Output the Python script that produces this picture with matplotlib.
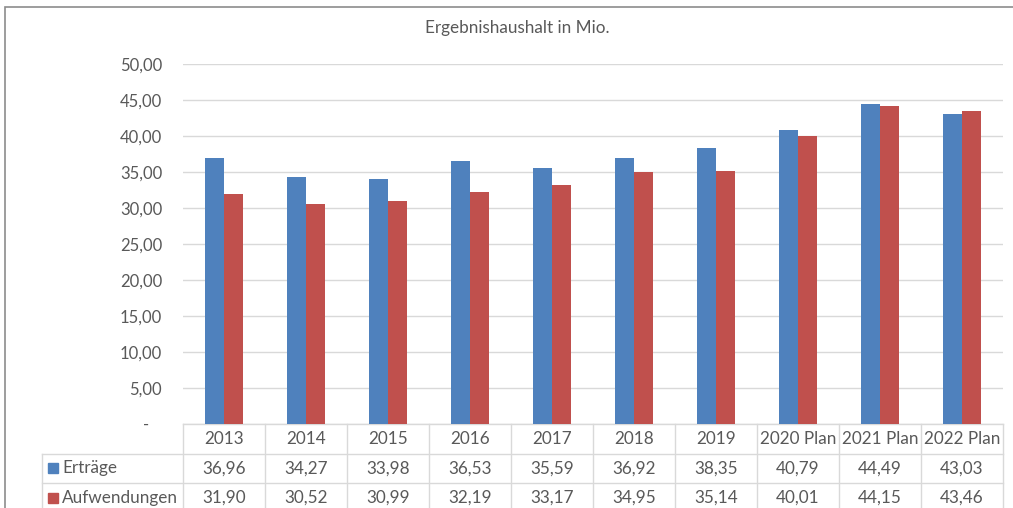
import matplotlib.pyplot as plt
import matplotlib.transforms as mtransforms
from matplotlib.patches import Rectangle
import numpy as np

plt.rcParams['font.family'] = ['Lato', 'DejaVu Sans']

years = ['2013', '2014', '2015', '2016', '2017', '2018', '2019',
         '2020 Plan', '2021 Plan', '2022 Plan']
ertraege = [36.96, 34.27, 33.98, 36.53, 35.59, 36.92, 38.35, 40.79, 44.49, 43.03]
aufwendungen = [31.90, 30.52, 30.99, 32.19, 33.17, 34.95, 35.14, 40.01, 44.15, 43.46]
series_names = ['Erträge', 'Aufwendungen']

blue = '#4F81BD'
red = '#C0504D'
txt = '#595959'
grid = '#D9D9D9'

def de(v):
    return f'{v:.2f}'.replace('.', ',')

fig = plt.figure(figsize=(10.13, 5.08), dpi=100)
ax = fig.add_axes([183 / 1013, 1 - 424 / 508, 820 / 1013, 360 / 508])

x = np.arange(len(years))
w = 0.23
ax.bar(x - w / 2, ertraege, w, color=blue, zorder=3)
ax.bar(x + w / 2, aufwendungen, w, color=red, zorder=3)

ax.set_xlim(-0.5, len(years) - 0.5)
ax.set_ylim(0, 50)
ax.set_yticks(np.arange(0, 51, 5))
ax.set_yticklabels(['-   '] + [de(v) for v in np.arange(5, 51, 5)])
ax.tick_params(axis='y', length=0, pad=15, labelsize=12, colors=txt)
ax.tick_params(axis='x', length=0, labelbottom=False)
ax.yaxis.grid(True, color=grid, linewidth=1, zorder=0)
for s in ax.spines.values():
    s.set_visible(False)

# data table under the axis
row_h = 29.5 / 360
trans = mtransforms.blended_transform_factory(ax.transData, ax.transAxes)
left_x = (42 - 183) / 820 * len(years) - 0.5
bottom = -3.2 * row_h
ax.plot([-0.5, len(years) - 0.5], [0, 0], transform=trans, color=grid, lw=1, clip_on=False)
for r in (1, 2):
    ax.plot([left_x, len(years) - 0.5], [-r * row_h] * 2, transform=trans,
            color=grid, lw=1, clip_on=False)
for b in np.arange(-0.5, len(years), 1.0):
    ax.plot([b, b], [0, bottom], transform=trans, color=grid, lw=1, clip_on=False)
ax.plot([left_x, left_x], [-row_h, bottom], transform=trans, color=grid, lw=1, clip_on=False)

fs = 12.3
for i, y in enumerate(years):
    ax.text(i, -0.5 * row_h, y, transform=trans, ha='center', va='center',
            fontsize=fs, color=txt)
    ax.text(i, -1.5 * row_h, de(ertraege[i]), transform=trans, ha='center',
            va='center', fontsize=fs, color=txt)
    ax.text(i, -2.5 * row_h, de(aufwendungen[i]), transform=trans, ha='center',
            va='center', fontsize=fs, color=txt)

for r, (name, col) in enumerate(zip(series_names, [blue, red])):
    yc = 1 - (424 + 29.5 * (r + 1.5)) / 508
    fig.patches.append(Rectangle((48 / 1013, yc - 5 / 508), 10 / 1013, 10 / 508,
                                 transform=fig.transFigure, color=col))
    fig.text(62 / 1013, yc, name, ha='left', va='center', fontsize=fs, color=txt)

fig.text(517 / 1013, 1 - 28 / 508, 'Ergebnishaushalt in Mio.', ha='center',
         va='center', fontsize=12.3, color=txt)

# chart border (top and left visible)
fig.patches.append(Rectangle((5 / 1013, -0.1), 1.2, 1 - 7 / 508 + 0.1,
                             transform=fig.transFigure, fill=False,
                             edgecolor='#8C8C8C', lw=1.2))

fig.savefig('out.png', dpi=100)
